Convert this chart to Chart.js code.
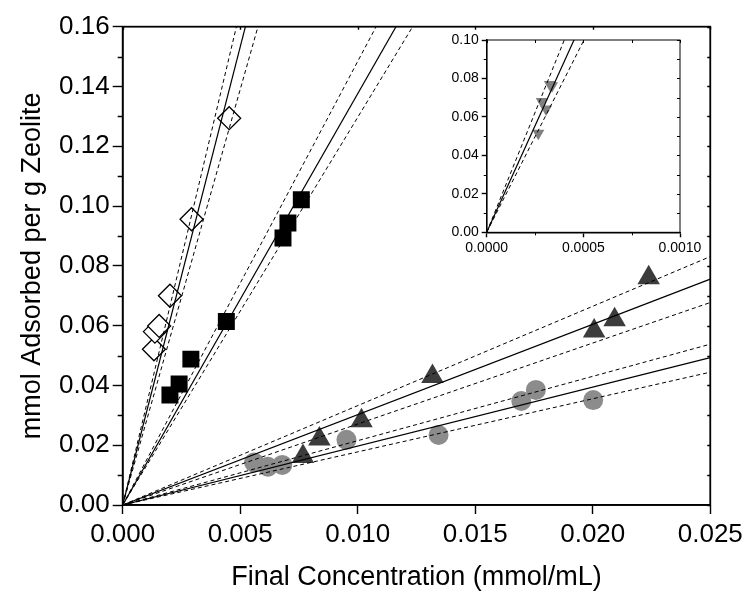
<!DOCTYPE html>
<html>
<head>
<meta charset="utf-8">
<script src="https://cdn.jsdelivr.net/npm/chart.js@4.4.1/dist/chart.umd.min.js"></script>
<style>
  html, body { margin: 0; padding: 0; background: #fff; }
  #wrap { position: relative; width: 748px; height: 595px; }
  #main { position: absolute; left: 0; top: 0; width: 748px; height: 595px; }
  #inset { position: absolute; left: 420px; top: 20px; width: 290px; height: 250px; }
</style>
</head>
<body>
<div id="wrap">
  <canvas id="main" width="748" height="595"></canvas>
  <canvas id="inset" width="290" height="250"></canvas>
</div>
<script>
// measured uptake, x = final concentration (mmol/mL), y = mmol adsorbed per g zeolite
const diamondX = [0.00133, 0.00137, 0.00155, 0.00201, 0.00293, 0.00453];
const diamondY = [0.0521, 0.0580, 0.0599, 0.0700, 0.0956, 0.1294];

const squareX = [0.00201, 0.00240, 0.00290, 0.00441, 0.00682, 0.00703, 0.00760];
const squareY = [0.0368, 0.0405, 0.0488, 0.0614, 0.0893, 0.0943, 0.1021];

const triangleX = [0.00767, 0.00837, 0.01016, 0.01318, 0.02006, 0.02093, 0.02238];
const triangleY = [0.0162, 0.0221, 0.0282, 0.0430, 0.0582, 0.0620, 0.0760];

const circleX = [0.00559, 0.00618, 0.00679, 0.00952, 0.01344, 0.01696, 0.01758, 0.02002];
const circleY = [0.0142, 0.0128, 0.0134, 0.0218, 0.0234, 0.0348, 0.0385, 0.0351];

// inset series (very low concentrations)
const insetX = [0.000327, 0.000338, 0.000285, 0.000307, 0.000267];
const insetY = [0.0768, 0.0762, 0.0680, 0.0641, 0.0515];

// fits through the origin: [upper band, slope, lower band]
const diamondFit = [33.07, 30.65, 27.80];
const squareFit = [14.84, 13.76, 12.97];
const triangleFit = [3.324, 3.022, 2.709];
const circleFit = [2.152, 1.972, 1.777];
const insetFit = [249.1, 221.4, 198.7];

const xTicks = [0, 0.005, 0.01, 0.015, 0.02, 0.025];
const yTicks = [0, 0.02, 0.04, 0.06, 0.08, 0.1, 0.12, 0.14, 0.16];
const insetXTicks = [0, 0.0005, 0.001];
const insetYTicks = [0, 0.02, 0.04, 0.06, 0.08, 0.1];

const FONT = "'Liberation Sans', Arial, sans-serif";

function pts(xs, ys) {
  return xs.map((x, i) => ({ x: x, y: ys[i] }));
}

// three lines (band, fit, band) from the origin out to xEnd
function fitLines(slopes, xEnd) {
  return slopes.map((s, i) => ({
    data: [{ x: 0, y: 0 }, { x: xEnd, y: s * xEnd }],
    showLine: true,
    borderColor: '#000',
    borderWidth: i === 1 ? 1.2 : 1,
    borderDash: i === 1 ? [] : [4, 3],
    pointRadius: 0,
    clip: 0,
    order: 0
  }));
}

function markers(data, style, r, fill, stroke, rot) {
  return {
    data: data,
    pointStyle: style,
    pointRadius: r,
    pointRotation: rot || 0,
    pointBackgroundColor: fill,
    pointBorderColor: stroke,
    pointBorderWidth: stroke === fill ? 0 : 1.3,
    order: 1
  };
}

// minor ticks, inward mirror ticks on top/right and the closed frame
const frameTicks = {
  id: 'frameTicks',
  afterDraw(chart, args, o) {
    const { ctx, chartArea: a, scales: { x, y } } = chart;
    const yv = y.ticks.map(t => t.value);
    const xv = x.ticks.map(t => t.value);
    ctx.save();
    ctx.strokeStyle = '#000';
    ctx.lineWidth = o.tickWidth;
    ctx.beginPath();
    for (let i = 0; i < yv.length - 1; i++) {
      const py = Math.round(y.getPixelForValue((yv[i] + yv[i + 1]) / 2)) + 0.5;
      ctx.moveTo(a.left - o.minor, py); ctx.lineTo(a.left, py);
    }
    const yAll = [];
    yv.forEach((v, i) => { yAll.push(v); if (i < yv.length - 1) yAll.push((v + yv[i + 1]) / 2); });
    yAll.forEach(v => {
      const py = Math.round(y.getPixelForValue(v)) + 0.5;
      ctx.moveTo(a.right - o.mirror, py); ctx.lineTo(a.right, py);
    });
    const xAll = [];
    xv.forEach((v, i) => {
      xAll.push(v);
      if (o.xMinor && i < xv.length - 1) {
        const m = (v + xv[i + 1]) / 2;
        xAll.push(m);
        const px = Math.round(x.getPixelForValue(m)) + 0.5;
        ctx.moveTo(px, a.bottom); ctx.lineTo(px, a.bottom + o.minor);
      }
    });
    xAll.forEach(v => {
      const px = Math.round(x.getPixelForValue(v)) + 0.5;
      ctx.moveTo(px, a.top); ctx.lineTo(px, a.top + o.mirror);
    });
    ctx.stroke();
    ctx.lineWidth = o.frame;
    ctx.strokeRect(a.left, a.top, a.right - a.left, a.bottom - a.top);
    ctx.restore();
  }
};

function axis(min, max, ticks, digits, size, tickLen, fitSize, horizontal, title) {
  return {
    type: 'linear',
    min: min,
    max: max,
    afterBuildTicks: s => { s.ticks = ticks.map(v => ({ value: v })); },
    afterFit: s => { if (horizontal) s.height = fitSize; else s.width = fitSize; },
    ticks: {
      color: '#000',
      font: { family: FONT, size: size },
      padding: horizontal ? size * 0.2 : 3,
      maxRotation: 0,
      autoSkip: false,
      callback: v => Number(v).toFixed(digits)
    },
    grid: {
      drawOnChartArea: false,
      drawTicks: true,
      tickLength: tickLen,
      tickWidth: 1.4,
      tickColor: '#000'
    },
    border: { display: true, color: '#000', width: 1.5 },
    title: title
  };
}

new Chart(document.getElementById('main'), {
  type: 'scatter',
  data: {
    datasets: [
      ...fitLines(diamondFit, 0.025),
      ...fitLines(squareFit, 0.025),
      ...fitLines(triangleFit, 0.025),
      ...fitLines(circleFit, 0.025),
      markers(pts(diamondX, diamondY), 'rectRot', 11.5, '#fff', '#000'),
      markers(pts(squareX, squareY), 'rect', 12, '#000', '#000'),
      markers(pts(triangleX, triangleY), 'triangle', 13, '#3c3c3c', '#3c3c3c'),
      markers(pts(circleX, circleY), 'circle', 10, '#8c8c8c', '#8c8c8c')
    ]
  },
  options: {
    responsive: false,
    animation: false,
    layout: { padding: { left: 0, top: 26.7, right: 36.3, bottom: 0 } },
    plugins: {
      legend: { display: false },
      tooltip: { enabled: false },
      frameTicks: { tickWidth: 1.4, minor: 5, mirror: 3, frame: 1.8, xMinor: false }
    },
    scales: {
      x: axis(0, 0.025, xTicks, 3, 26, 9, 90, true, {
        display: true,
        text: 'Final Concentration (mmol/mL)',
        color: '#000',
        font: { family: FONT, size: 27 },
        padding: { top: 0, bottom: 1 }
      }),
      y: axis(0, 0.16, yTicks, 2, 26, 10, 122.7, false, {
        display: true,
        text: 'mmol Adsorbed per g Zeolite',
        color: '#000',
        font: { family: FONT, size: 27 },
        padding: { top: 16, bottom: 0 }
      })
    }
  },
  plugins: [frameTicks]
});

new Chart(document.getElementById('inset'), {
  type: 'scatter',
  data: {
    datasets: [
      ...fitLines(insetFit, 0.001),
      markers(pts(insetX, insetY), 'triangle', 7, '#808080', '#808080', 180)
    ]
  },
  options: {
    responsive: false,
    animation: false,
    layout: { padding: { left: 0, top: 20, right: 30, bottom: 0 } },
    plugins: {
      legend: { display: false },
      tooltip: { enabled: false },
      frameTicks: { tickWidth: 1, minor: 3, mirror: 3, frame: 1, xMinor: true }
    },
    scales: {
      x: axis(0, 0.001, insetXTicks, 4, 14, 5, 37.7, true, { display: false }),
      y: axis(0, 0.1, insetYTicks, 2, 14, 5, 66.7, false, { display: false })
    }
  },
  plugins: [frameTicks]
});
</script>
</body>
</html>
